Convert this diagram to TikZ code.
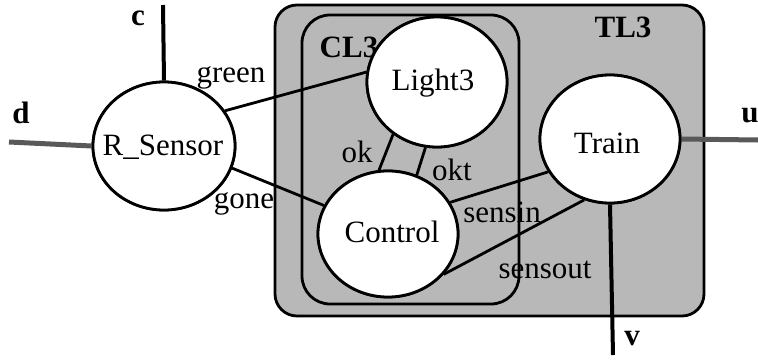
\documentclass[tikz,border=0pt]{standalone}
\usepackage{fontspec}
\setmainfont{Liberation Serif}
\usetikzlibrary{shapes.geometric}
\begin{document}
\begin{tikzpicture}[x=1pt,y=-1pt,
  proc/.style={ellipse, draw=black, line width=2.8pt, fill=white, inner sep=0pt},
  box/.style={draw=black, line width=2.8pt, fill=black!28},
  conn/.style={draw=black, line width=2.8pt},
  port/.style={draw=black, line width=4pt},
  gport/.style={draw=black!65, line width=5pt},
  lbl/.style={anchor=base, inner sep=0pt, font=\fontsize{31}{37}\selectfont},
  blbl/.style={anchor=base, inner sep=0pt, font=\fontsize{31}{37}\selectfont\bfseries}]
\useasboundingbox (0,0) rectangle (758,362);
% containers
\draw[box, rounded corners=22pt] (275,5) rectangle (704,316);
\draw[box, rounded corners=28pt] (302,15) rectangle (519,304);
\node[blbl] (tl3) at (623,37) {TL3};
\node[blbl] (cl3) at (349,57) {CL3};
% free ends of the ports
\coordinate (cend) at (163,5);
\coordinate (dend) at (9,142);
\coordinate (uend) at (758,140);
\coordinate (vend) at (613,355);
\node[proc, minimum width=142pt, minimum height=128pt] (rs) at (164,146) {};
\node[proc, minimum width=140pt, minimum height=130pt] (light) at (437,82) {};
\node[proc, minimum width=140pt, minimum height=126pt] (ctrl) at (388,234) {};
\node[proc, minimum width=140pt, minimum height=128pt] (train) at (610,139) {};
% connectors
\draw[conn] (rs.30) -- (light.172.5);
\draw[conn] (rs.-18) -- (ctrl.156.7);
\draw[conn] (light.-130) -- (ctrl.98.9);
\draw[conn] (light.-100.8) -- (ctrl.64.2);
\draw[conn] (ctrl.27.3) -- (train.-152.7);
\draw[conn] (ctrl.-36.7) -- (train.-113);
\draw[port] (rs.north) -- (cend);
\draw[gport] (rs.west) -- (dend);
\draw[gport] (train.east) -- (uend);
\draw[port] (train.south) -- (vend);
% redraw ellipses on top
\node[proc, minimum width=142pt, minimum height=128pt] at (rs) {};
\node[proc, minimum width=140pt, minimum height=130pt] at (light) {};
\node[proc, minimum width=140pt, minimum height=126pt] at (ctrl) {};
\node[proc, minimum width=140pt, minimum height=128pt] at (train) {};
% texts
\node[lbl] (trs) at (163,155) {R\_Sensor};
\node[lbl] (tlight) at (433,90) {Light3};
\node[lbl] (tctrl) at (392,242) {Control};
\node[lbl] (ttrain) at (607,153) {Train};
\node[lbl] (tgreen) at (231,82) {green};
\node[lbl] (tgone) at (244,208) {gone};
\node[lbl] (tok) at (357,162) {ok};
\node[lbl] (tokt) at (452,180) {okt};
\node[lbl] (tsensin) at (502,222) {sensin};
\node[lbl] (tsensout) at (545,278) {sensout};
\node[blbl] (tc) at (138,25) {c};
\node[blbl] (td) at (21,123) {d};
\node[blbl] (tu) at (750,122) {u};
\node[blbl] (tv) at (632,345) {v};
\end{tikzpicture}
\end{document}
